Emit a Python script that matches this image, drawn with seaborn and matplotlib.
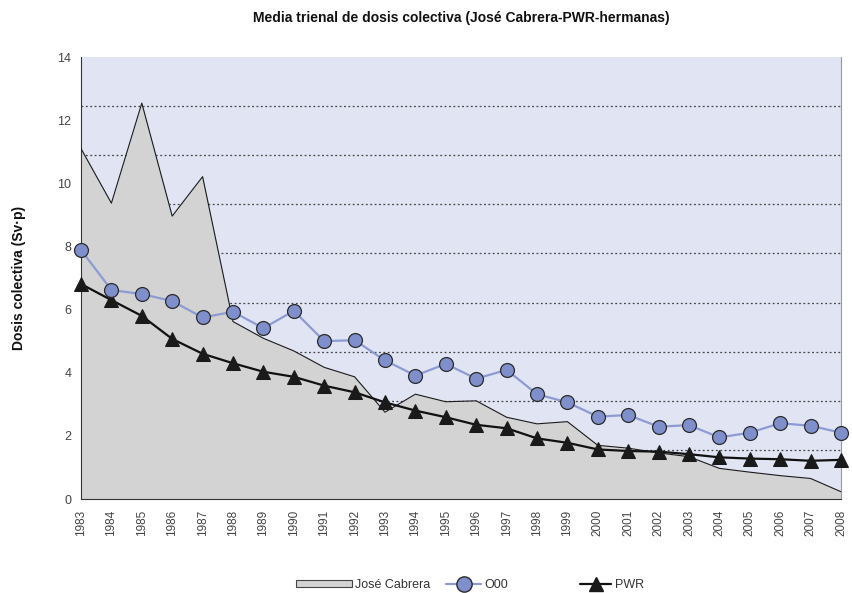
import numpy as np
import pandas as pd
import matplotlib
matplotlib.use('Agg')
import matplotlib.pyplot as plt
from matplotlib.patches import Patch
from matplotlib.lines import Line2D
import seaborn as sns

# ── DATA ─────────────────────────────────────────────────────────────────────
years = list(range(1983, 2009))
jose_cabrera = [11.1, 9.37, 12.54, 8.96, 10.21, 5.62, 5.09, 4.69, 4.17, 3.87,
                2.75, 3.32, 3.08, 3.11, 2.59, 2.38, 2.45, 1.70, 1.61, 1.46,
                1.34, 0.97, 0.85, 0.74, 0.65, 0.23]
o00 = [7.89, 6.62, 6.49, 6.27, 5.75, 5.93, 5.41, 5.96, 5.0, 5.03,
       4.39, 3.91, 4.28, 3.81, 4.09, 3.32, 3.06, 2.61, 2.66, 2.29,
       2.34, 1.95, 2.1, 2.4, 2.32, 2.1]
pwr = [6.81, 6.3, 5.8, 5.07, 4.6, 4.3, 4.03, 3.87, 3.59, 3.38,
       3.06, 2.8, 2.59, 2.35, 2.24, 1.92, 1.78, 1.57, 1.52, 1.5,
       1.42, 1.32, 1.28, 1.26, 1.21, 1.24]
y_labels = [0, 2, 4, 6, 8, 10, 12, 14]

df = pd.DataFrame({'year': years, 'jc': jose_cabrera, 'o00': o00, 'pwr': pwr})

# ── STYLE ────────────────────────────────────────────────────────────────────
sns.set_style('white')
plt.rcParams['font.family'] = ['Liberation Sans', 'DejaVu Sans']

C_BG = '#E1E4F3'
C_AREA = '#D3D3D3'
C_CIRC = '#7F8FCB'
C_CLINE = '#8C9BD3'
C_TRI = '#1a1a1a'

fig = plt.figure(figsize=(8.53, 5.93), dpi=100)
ax = fig.add_axes([81 / 853, 94 / 593, 760 / 853, 442 / 593])
ax.set_facecolor(C_BG)

# gridlines punteadas (9 divisiones del eje)
step = 14 / 9
grid_y = [step * k for k in range(1, 9)]
ax.hlines(grid_y, 1983, 2008, colors='#444444', linestyles=(0, (1.5, 2)),
          linewidth=0.9, zorder=1)

# José Cabrera (área)
ax.fill_between(df['year'], df['jc'], 0, color=C_AREA, zorder=2, linewidth=0)
sns.lineplot(data=df, x='year', y='jc', ax=ax, color='#1a1a1a', linewidth=0.8,
             zorder=3)

# PWR
sns.lineplot(data=df, x='year', y='pwr', ax=ax, color='#111111', linewidth=1.6,
             marker='^', markersize=9.5, markerfacecolor=C_TRI,
             markeredgecolor=C_TRI, zorder=4)

# O00
sns.lineplot(data=df, x='year', y='o00', ax=ax, color=C_CLINE, linewidth=1.6,
             marker='o', markersize=10, markerfacecolor=C_CIRC,
             markeredgecolor='#2b2b2b', markeredgewidth=0.9, zorder=5)

for ln in ax.lines[1:]:
    ln.set_clip_on(False)

ax.set_xlim(1983, 2008)
ax.set_ylim(0, 14)

ax.set_xticks(years)
ax.set_xticklabels([str(y) for y in years], rotation=90, fontsize=8.5,
                   color='#444444')
ax.tick_params(axis='x', length=5, width=0.8, color='#333333', pad=3)

ax.set_yticks(y_labels)
ax.set_yticklabels([str(v) for v in y_labels], fontsize=9, color='#444444')
ax.tick_params(axis='y', which='major', length=0, pad=7)
ax.set_yticks([step * k for k in range(0, 10)], minor=True)
ax.tick_params(axis='y', which='minor', length=4, width=0.8, color='#333333')

for s in ['left', 'bottom']:
    ax.spines[s].set_color('#333333')
    ax.spines[s].set_linewidth(0.8)
ax.spines['right'].set_color('#999999')
ax.spines['right'].set_linewidth(0.8)
ax.spines['top'].set_visible(False)

ax.set_xlabel('')
ax.set_ylabel('Dosis colectiva (Sv·p)', fontsize=10, fontweight='bold',
              color='#111111')
ax.yaxis.set_label_coords((26 - 81) / 760, 0.5)

fig.text(461 / 853, 1 - 18 / 593,
         'Media trienal de dosis colectiva (José Cabrera-PWR-hermanas)',
         ha='center', va='center', fontsize=10, fontweight='bold',
         color='#111111')

# leyenda: tres entradas colocadas por separado
leg_y = 1 - 585 / 593
h_jc = Patch(facecolor=C_AREA, edgecolor='#444444', linewidth=0.8)
h_o00 = Line2D([0], [0], color=C_CLINE, linewidth=1.6, marker='o',
               markersize=11, markerfacecolor=C_CIRC, markeredgecolor='#2b2b2b')
h_pwr = Line2D([0], [0], color='#111111', linewidth=1.6, marker='^',
               markersize=10.5, markerfacecolor=C_TRI, markeredgecolor=C_TRI)

leg_specs = [(h_jc, 'José Cabrera', 363, 4.5, 0.5, 0.2),
             (h_o00, 'O00', 477, 2.8, 0.8, 0.25),
             (h_pwr, 'PWR', 612, 2.5, 0.8, 0.3)]
for h, lab, cx, hl, hh, pad in leg_specs:
    fig.legend([h], [lab], loc='center', bbox_to_anchor=(cx / 853, leg_y),
               frameon=False, fontsize=9, handlelength=hl,
               handleheight=hh, handletextpad=pad, borderpad=0,
               labelcolor='#333333')

fig.savefig('out.png', dpi=100)
